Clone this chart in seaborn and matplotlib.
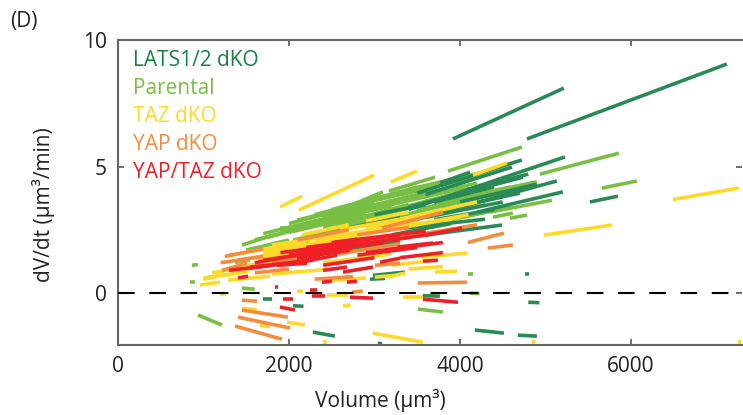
import matplotlib
matplotlib.use("Agg")
import matplotlib.pyplot as plt
import seaborn as sns
import pandas as pd

# ---------------- data: each segment = (V start, V end, dV/dt start, dV/dt end)
groups = ["LATS1/2 dKO", "Parental", "TAZ dKO", "YAP dKO", "YAP/TAZ dKO"]
colors = ["#2a8a55", "#78bf43", "#fdd928", "#f58b3d", "#ee1f26"]
label_colors = ["#1a7f45", "#78bf43", "#fdd928", "#f58b3d", "#ee1f26"]

lats_v0 = [4784, 3918, 5520, 3500, 3600, 3400, 3300, 3400, 3300, 3500, 3767,
           4175, 4678, 2280, 4760, 4800, 3567, 2982, 2947, 1696, 2047, 2300,
           2600, 3000, 3040, 3700, 3600, 3800, 4000, 3700, 4100, 3200, 3000,
           4200, 2700]
lats_v1 = [7123, 5216, 5848, 4725, 4608, 5228, 5134, 4737, 4294, 4493, 4118,
           4515, 4900, 2538, 4810, 4930, 3766, 3357, 3123, 1800, 2170, 2800,
           3300, 3600, 3090, 4400, 4500, 4700, 4900, 4400, 4800, 3900, 3700,
           5205, 3300]
lats_r0 = [6.09, 6.09, 3.60, 3.95, 3.90, 3.30, 2.75, 3.40, 2.55, 2.25, 4.35,
           -1.46, -1.66, -1.54, 0.75, -0.36, -0.10, 0.70, 0.55, -0.25, -0.50, 1.95,
           2.50, 3.10, -1.98, 3.60, 3.00, 3.30, 3.60, 2.90, 4.10, 2.30, 2.00,
           3.20, 1.75]
lats_r1 = [9.05, 8.10, 3.83, 5.26, 4.98, 5.38, 4.43, 4.58, 2.92, 2.69, 4.78,
           -1.58, -1.70, -1.70, 0.75, -0.38, -0.12, 0.83, 0.58, -0.25, -0.52, 2.20,
           3.00, 3.50, -2.00, 4.20, 3.60, 3.95, 4.30, 3.30, 4.70, 2.75, 2.40,
           4.00, 2.05]

par_v0 = [1450, 1800, 1895, 2094, 2000, 2150, 2300, 2400, 2500, 2600, 2700,
          2800, 2900, 3000, 3170, 3860, 4936, 5661, 4352, 4386, 4585, 3200,
          3500, 1600, 1369, 1626, 936, 842, 865, 1450, 3509, 4117, 4100,
          2225, 3900, 3300, 2600, 1700, 2000, 2450, 3600,
          1900, 2100, 2250, 2400, 2550, 2700, 2850, 2950, 3100, 3250, 3400,
          3550, 3700, 2050, 1750, 1500, 2350, 4000, 4200]
par_v1 = [1813, 2245, 2070, 2714, 2900, 3000, 3100, 3400, 3300, 3100, 3600,
          3700, 3900, 3800, 3708, 4725, 5860, 6070, 5076, 4620, 4784, 4300,
          4400, 2300, 1544, 1813, 1216, 900, 935, 1600, 3801, 4230, 4150,
          2714, 4600, 4200, 3500, 2600, 3000, 3300, 4300,
          2700, 3200, 2900, 3500, 3400, 3800, 3500, 4100, 4000, 4200, 4300,
          4500, 4600, 2600, 2400, 2000, 3000, 4700, 4900]
par_r0 = [1.90, 1.78, 2.57, 2.88, 2.40, 2.20, 3.10, 2.60, 3.30, 3.30, 2.80,
          3.50, 3.00, 3.70, 4.03, 4.82, 4.70, 4.15, 3.20, 3.00, 2.96, 2.70,
          3.30, 2.10, 1.22, 1.42, -0.87, 0.43, 1.10, 0.20, -0.63, 0.00, 0.75,
          2.96, 2.90, 3.90, 2.20, 2.35, 2.75, 2.90, 3.60,
          2.45, 2.60, 3.00, 3.00, 2.70, 3.20, 3.55, 3.30, 2.90, 3.60, 4.10,
          3.10, 3.50, 2.10, 2.20, 1.70, 2.40, 3.60, 3.90]
par_r1 = [2.29, 2.00, 2.60, 3.40, 3.10, 2.90, 3.80, 3.50, 4.00, 4.00, 3.60,
          4.20, 3.90, 4.40, 4.58, 5.77, 5.53, 4.43, 3.67, 3.16, 3.08, 3.50,
          4.00, 2.70, 1.30, 1.54, -1.26, 0.43, 1.13, 0.15, -0.75, -0.02, 0.75,
          3.48, 3.40, 4.60, 2.90, 3.10, 3.60, 3.70, 4.30,
          3.05, 3.45, 3.50, 3.90, 3.35, 4.10, 4.20, 4.20, 3.60, 4.35, 4.80,
          3.80, 4.20, 2.50, 2.80, 2.10, 2.90, 4.10, 4.40]

taz_v0 = [6491, 4982, 1895, 2117, 3193, 4153, 2982, 1450, 1976, 1660, 2632,
          3335, 3708, 3556, 959, 994, 1638, 1275, 1287, 3006, 2445, 1190,
          2090, 2420, 4860, 7270, 1300, 1800, 2200, 2500, 3000, 3400, 1500,
          2700, 3200, 3147, 2150, 2900,
          1100, 1400, 1700, 2000, 2300, 2600, 2900, 3300, 1000, 2400, 3400,
          1800, 2500]
taz_v1 = [7263, 5778, 2152, 2994, 3497, 4550, 3567, 1625, 2187, 1778, 2720,
          3567, 3966, 4082, 1193, 1134, 2094, 1544, 1778, 3240, 2690, 1260,
          2170, 2425, 4865, 7275, 2200, 2800, 3200, 3500, 4000, 4200, 2400,
          3600, 3700, 3357, 2700, 3400,
          1800, 2300, 2600, 3000, 3300, 3600, 3800, 4100, 1500, 3200, 3800,
          2500, 2900]
taz_r0 = [3.70, 2.29, 3.40, 3.28, 4.39, 4.66, -1.58, -0.60, -1.15, -1.28, -0.50,
          -0.15, 0.83, 1.42, 0.32, 0.55, 1.30, 0.70, 0.51, 0.63, -0.08, -0.02,
          0.10, -1.85, -1.85, -1.85, 1.50, 1.90, 1.60, 2.20, 2.40, 3.00, 1.10,
          1.90, 1.10, 0.63, 2.30, 2.85,
          0.80, 1.30, 1.60, 1.80, 2.10, 2.50, 2.60, 2.60, 0.60, 1.20, 0.95,
          0.75, 0.50]
taz_r1 = [4.15, 2.69, 3.83, 4.66, 4.82, 5.14, -1.94, -0.67, -1.26, -1.32, -0.48,
          -0.15, 0.87, 1.58, 0.43, 0.63, 1.58, 0.90, 0.67, 0.70, -0.08, -0.02,
          0.10, -2.20, -2.20, -2.20, 2.00, 2.40, 2.20, 2.80, 3.00, 3.60, 1.45,
          2.30, 1.30, 0.79, 2.70, 3.20,
          1.20, 1.80, 2.10, 2.40, 2.70, 3.10, 3.20, 3.10, 0.85, 1.55, 1.05,
          0.95, 0.60]

yap_v0 = [4094, 4327, 3509, 3089, 1368, 1404, 1450, 1450, 2737, 1217, 2500,
          3006, 2000, 2800, 1250, 2300, 1200, 1800, 3500, 2100, 1600]
yap_v1 = [4515, 4620, 4082, 3803, 1918, 2012, 1988, 1626, 2865, 1509, 3300,
          3300, 2600, 3400, 1700, 2750, 1700, 2300, 4200, 2700, 2000]
yap_r0 = [2.00, 1.78, 0.40, 2.57, -1.30, -0.95, -0.67, -0.28, 0.04, 0.90, 1.50,
          1.10, 1.40, 2.30, 1.45, 0.55, 1.20, 1.20, 2.30, 2.10, 0.80]
yap_r1 = [2.37, 1.90, 0.43, 3.20, -1.82, -1.38, -0.95, -0.32, 0.08, 1.18, 1.95,
          1.18, 1.70, 2.60, 1.75, 0.65, 1.45, 1.40, 2.70, 2.50, 0.95]

yt_v0 = [3567, 3567, 3275, 3591, 1895, 1930, 2269, 2714, 2245, 2386, 2678,
         1836, 1544, 2094, 1860, 1404, 1544, 1895, 2129, 2398, 2632, 3065,
         3124, 2300, 2600, 2000, 2800, 1600,
         1700, 2200, 2500, 2900, 1900, 2400, 3300, 3000, 1300]
yt_v1 = [3977, 3743, 3685, 4025, 2070, 2047, 2421, 2983, 2327, 2503, 2795,
         1870, 2281, 2714, 2211, 1521, 1977, 2363, 2562, 2679, 2983, 3300,
         3533, 3100, 3400, 2700, 3500, 2100,
         2600, 3300, 3600, 3800, 2800, 3000, 3800, 3700, 1800]
yt_r0 = [-0.24, 1.26, 1.82, 2.29, -0.55, -0.24, -0.12, -0.16, 0.12, 0.43, 0.43,
         0.24, 1.03, 1.38, 1.10, 0.60, 0.98, 1.10, 1.22, 0.90, 0.83, 1.22,
         1.70, 1.60, 1.85, 1.50, 1.50, 1.20,
         1.30, 1.80, 2.00, 1.60, 1.60, 1.10, 1.40, 2.00, 0.90]
yt_r1 = [-0.36, 1.30, 1.98, 2.57, -0.67, -0.24, -0.12, -0.20, 0.12, 0.47, 0.47,
         0.24, 1.30, 1.70, 1.18, 0.67, 1.18, 1.42, 1.50, 1.03, 1.03, 1.38,
         1.90, 2.00, 2.20, 1.90, 1.80, 1.50,
         1.75, 2.30, 2.45, 2.00, 2.00, 1.40, 1.60, 2.35, 1.10]

x_ticks = [0, 2000, 4000, 6000]
y_ticks = [0, 5, 10]

# ---------------- long table for seaborn
series = {
    "LATS1/2 dKO": (lats_v0, lats_v1, lats_r0, lats_r1),
    "Parental": (par_v0, par_v1, par_r0, par_r1),
    "TAZ dKO": (taz_v0, taz_v1, taz_r0, taz_r1),
    "YAP dKO": (yap_v0, yap_v1, yap_r0, yap_r1),
    "YAP/TAZ dKO": (yt_v0, yt_v1, yt_r0, yt_r1),
}
rows = []
for g, (v0, v1, r0, r1) in series.items():
    for i in range(len(v0)):
        sid = f"{g}_{i}"
        rows.append({"group": g, "seg": sid, "Volume": v0[i], "Rate": r0[i]})
        rows.append({"group": g, "seg": sid, "Volume": v1[i], "Rate": r1[i]})
df = pd.DataFrame(rows)

sns.set_theme(style="white")
plt.rcParams["font.family"] = ["Open Sans", "DejaVu Sans"]

fig = plt.figure(figsize=(7.43, 4.15), dpi=100)
ax = fig.add_axes([118 / 743, 1 - 345 / 415, (742 - 118) / 743, (345 - 40) / 415])

draw_order = ["Parental", "LATS1/2 dKO", "TAZ dKO", "YAP dKO", "YAP/TAZ dKO"]
pal = dict(zip(groups, colors))
for g in draw_order:
    sns.lineplot(data=df[df["group"] == g], x="Volume", y="Rate", units="seg",
                 estimator=None, sort=False, color=pal[g], lw=2.6,
                 solid_capstyle="butt", legend=False, ax=ax)

ax.axhline(0, color="black", lw=1.5, dashes=(8, 7), zorder=10)

ax.set_xlim(0, 7300)
ax.set_ylim(-2.05, 10)
ax.set_xticks(x_ticks)
ax.set_yticks(y_ticks)
ax.set_xlabel("")
ax.set_ylabel("")
ax.tick_params(direction="in", length=4, width=1.2, color="#555555",
               labelsize=15, labelcolor="#222222", top=True, right=True,
               bottom=True, left=True, pad=8)
for s in ["left", "bottom", "top"]:
    ax.spines[s].set_color("#666666")
    ax.spines[s].set_linewidth(1.5)
ax.spines["right"].set_visible(False)

fig.text(380 / 743, 1 - 400 / 415, "Volume (µm³)", ha="center", va="center",
         fontsize=15, color="#222222")
fig.text(44 / 743, 1 - 205 / 415, "dV/dt (µm³/min)", ha="center", va="center",
         rotation=90, fontsize=15, color="#222222")
fig.text(10 / 743, 1 - 22 / 415, "(D)", ha="left", va="center", fontsize=15,
         color="#222222")

for i, (g, c) in enumerate(zip(groups, label_colors)):
    fig.text(133 / 743, 1 - (60 + 28.2 * i) / 415, g, ha="left", va="center",
             fontsize=15, color=c)

fig.savefig("out.png", dpi=100)
